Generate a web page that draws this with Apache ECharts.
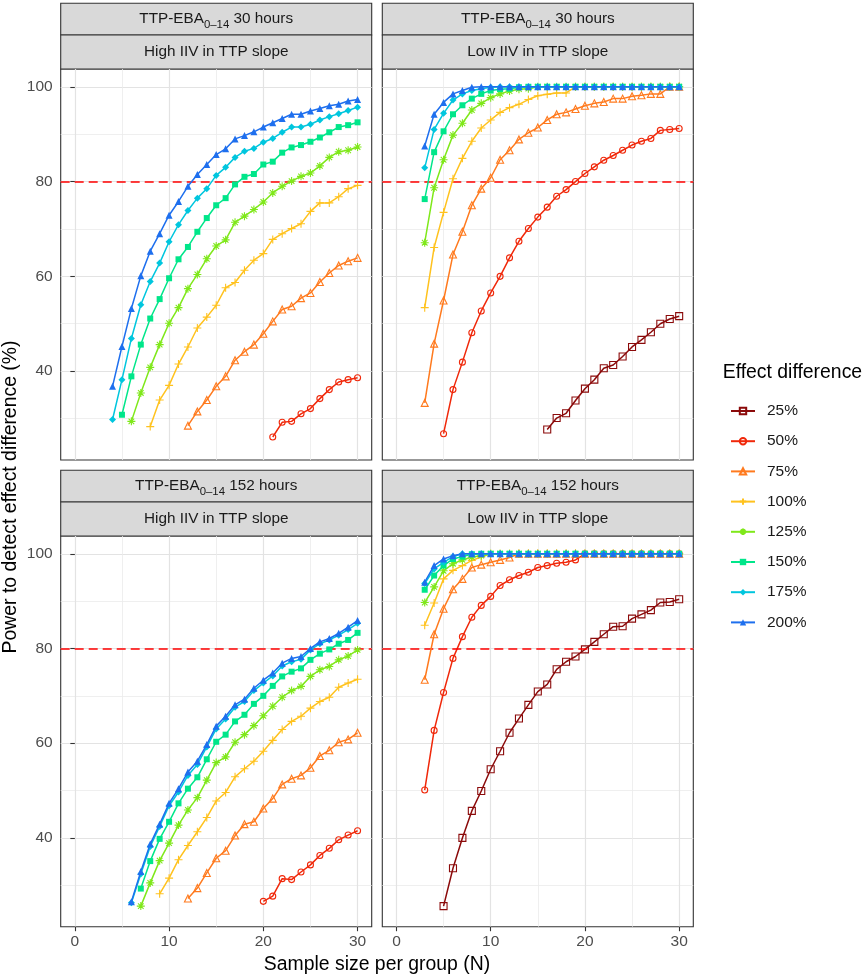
<!DOCTYPE html>
<html>
<head>
<meta charset="utf-8">
<script src="https://cdn.jsdelivr.net/npm/echarts@6.0.0/dist/echarts.min.js"></script>
<style>
  html, body { margin: 0; padding: 0; background: #fff; }
  #main { width: 865px; height: 979px; }
</style>
</head>
<body>
<div id="main"></div>
<script>
// effect levels, in legend order
var effects = ['25%', '50%', '75%', '100%', '125%', '150%', '175%', '200%'];

// axis ticks
var xMajor = [0, 10, 20, 30];
var xMinor = [5, 15, 25];
var yMajor = [40, 60, 80, 100];
var yMinor = [30, 50, 70, 90];

// TTP-EBA 30 hours, high IIV : first N of each curve and the power values
var hi30Start = [null, 21, 12, 8, 6, 5, 4, 4];
var hi30_50 = [26.1, 29.2, 29.4, 31.0, 32.1, 34.2, 36.1, 37.7, 38.2, 38.6];
var hi30_75 = [28.5, 31.5, 33.9, 36.8, 38.9, 42.3, 44.1, 45.6, 47.9, 50.5, 53.0, 53.7, 55.4, 56.5, 58.8, 60.7, 62.3, 63.2, 63.9];
var hi30_100 = [28.3, 33.9, 37.0, 41.5, 45.1, 49.1, 51.4, 53.9, 57.6, 58.7, 61.3, 63.4, 64.8, 67.8, 69.0, 70.1, 71.1, 73.7, 75.5, 75.5, 76.8, 78.5, 79.2];
var hi30_125 = [29.4, 35.4, 40.8, 45.6, 50.1, 53.4, 57.4, 60.4, 63.7, 66.4, 67.7, 71.4, 72.7, 74.1, 75.7, 77.6, 79.0, 80.1, 81.1, 81.8, 83.3, 85.1, 86.3, 86.6, 87.3];
var hi30_150 = [30.8, 38.9, 45.6, 51.1, 55.2, 59.6, 63.6, 66.2, 69.4, 72.3, 75.0, 76.5, 79.4, 81.0, 81.6, 83.6, 84.2, 86.1, 87.2, 87.7, 88.4, 89.3, 90.4, 91.5, 91.9, 92.5];
var hi30_175 = [29.8, 38.2, 46.9, 54.0, 58.9, 62.8, 67.3, 70.9, 73.9, 76.5, 78.5, 81.3, 83.0, 85.1, 86.4, 87.0, 88.3, 89.1, 90.4, 91.5, 91.5, 92.1, 93.0, 93.7, 94.3, 95.0, 95.7];
var hi30_200 = [36.8, 45.2, 53.2, 60.1, 65.3, 69.0, 72.9, 75.8, 79.0, 81.5, 83.6, 85.7, 86.9, 89.0, 89.7, 90.5, 91.5, 92.4, 93.3, 94.2, 94.2, 94.9, 95.4, 96.0, 96.3, 97.0, 97.3];

// TTP-EBA 30 hours, low IIV
var lo30Start = [16, 5, 3, 3, 3, 3, 3, 3];
var lo30_25 = [27.7, 30.1, 31.1, 33.8, 36.3, 38.2, 40.6, 41.3, 43.1, 45.1, 46.6, 48.2, 50.0, 51.0, 51.6];
var lo30_50 = [26.8, 36.1, 41.9, 48.1, 52.7, 56.5, 60.0, 63.9, 67.4, 70.1, 72.5, 74.6, 76.9, 78.3, 80.0, 81.7, 83.1, 84.5, 85.5, 86.6, 87.7, 88.5, 89.1, 90.8, 91.0, 91.2];
var lo30_75 = [33.3, 45.8, 54.9, 64.6, 69.4, 75.0, 78.5, 80.8, 84.6, 86.6, 88.9, 90.3, 91.4, 93.0, 94.2, 94.6, 95.3, 96.0, 96.5, 96.8, 97.5, 97.5, 98.0, 98.2, 98.5, 98.5, 100, 100];
var lo30_100 = [53.4, 66.1, 73.5, 80.6, 84.9, 88.5, 91.3, 93.0, 94.6, 95.6, 96.3, 97.3, 98.1, 98.4, 98.7, 98.7, 100, 100, 100, 100, 100, 100, 100, 100, 100, 100, 100, 100];
var lo30_125 = [67.1, 78.7, 84.6, 89.8, 92.3, 95.1, 96.5, 97.7, 98.5, 99.1, 99.5, 99.6, 100, 100, 100, 100, 100, 100, 100, 100, 100, 100, 100, 100, 100, 100, 100, 100];
var lo30_150 = [76.3, 86.2, 90.6, 94.2, 96.1, 97.5, 98.5, 99.2, 99.5, 99.6, 99.9, 100, 100, 100, 100, 100, 100, 100, 100, 100, 100, 100, 100, 100, 100, 100, 100, 100];
var lo30_175 = [82.9, 91.0, 94.4, 97.2, 98.5, 99.2, 99.6, 99.9, 100, 100, 100, 100, 100, 100, 100, 100, 100, 100, 100, 100, 100, 100, 100, 100, 100, 100, 100, 100];
var lo30_200 = [87.5, 94.2, 96.7, 98.5, 99.2, 99.9, 100, 100, 100, 100, 100, 100, 100, 100, 100, 100, 100, 100, 100, 100, 100, 100, 100, 100, 100, 100, 100, 100];

// TTP-EBA 152 hours, high IIV
var hi152Start = [null, 20, 12, 9, 7, 7, 6, 6];
var hi152_50 = [26.6, 27.7, 31.4, 31.2, 32.8, 34.3, 36.3, 37.8, 39.6, 40.6, 41.5];
var hi152_75 = [27.2, 29.4, 32.6, 35.7, 37.3, 40.5, 42.9, 43.4, 46.2, 48.3, 51.3, 52.5, 53.2, 54.8, 57.3, 58.5, 60.2, 60.8, 62.2];
var hi152_100 = [28.2, 31.5, 35.4, 38.4, 41.3, 44.3, 47.8, 49.6, 52.9, 54.6, 56.2, 58.3, 60.6, 62.9, 64.6, 65.7, 67.4, 68.8, 69.7, 71.8, 72.7, 73.5];
var hi152_125 = [25.6, 30.5, 35.2, 38.9, 42.7, 45.9, 48.5, 52.2, 55.9, 57.1, 60.2, 61.8, 63.7, 65.8, 67.8, 69.7, 71.1, 72.0, 74.1, 75.5, 76.2, 77.6, 78.4, 79.7];
var hi152_150 = [29.3, 35.1, 39.8, 43.4, 47.3, 50.4, 52.8, 56.6, 60.3, 61.8, 64.6, 66.0, 68.3, 70.0, 72.1, 74.1, 75.1, 75.8, 77.6, 78.9, 79.8, 81.0, 81.8, 83.3];
var hi152_175 = [26.3, 32.4, 38.2, 42.4, 46.8, 49.7, 53.2, 55.5, 59.2, 63.0, 65.1, 67.6, 68.8, 71.1, 72.7, 74.2, 76.3, 77.2, 77.7, 79.7, 81.0, 81.8, 82.8, 84.0, 85.3];
var hi152_200 = [26.5, 32.9, 38.7, 42.9, 47.3, 50.4, 53.9, 56.2, 59.7, 63.6, 65.7, 68.1, 69.3, 71.6, 73.3, 74.8, 76.9, 77.9, 78.3, 80.0, 81.4, 82.1, 83.2, 84.5, 85.9];

// TTP-EBA 152 hours, low IIV
var lo152Start = [5, 3, 3, 3, 3, 3, 3, 3];
var lo152_25 = [25.6, 33.6, 40.0, 45.7, 49.9, 54.5, 58.3, 62.2, 65.2, 68.1, 70.9, 72.4, 75.6, 77.2, 78.3, 79.8, 81.4, 83.0, 84.6, 84.7, 86.3, 87.2, 88.1, 89.7, 89.8, 90.4];
var lo152_50 = [50.1, 62.7, 70.7, 77.9, 82.5, 86.6, 89.1, 91.0, 93.3, 94.5, 95.4, 96.1, 97.1, 97.5, 98.0, 98.2, 98.7, 100, 100, 100, 100, 100, 100, 100, 100, 100, 100, 100];
var lo152_75 = [73.4, 83.0, 88.4, 92.5, 94.7, 97.1, 97.7, 98.2, 98.7, 99.2, 100, 100, 100, 100, 100, 100, 100, 100, 100, 100, 100, 100, 100, 100, 100, 100, 100, 100];
var lo152_100 = [84.9, 89.6, 94.7, 96.5, 97.5, 98.6, 99.3, 100, 100, 100, 100, 100, 100, 100, 100, 100, 100, 100, 100, 100, 100, 100, 100, 100, 100, 100, 100, 100];
var lo152_125 = [89.7, 93.0, 96.4, 97.9, 98.7, 99.3, 99.6, 100, 100, 100, 100, 100, 100, 100, 100, 100, 100, 100, 100, 100, 100, 100, 100, 100, 100, 100, 100, 100];
var lo152_150 = [92.4, 95.4, 97.5, 98.9, 99.4, 99.9, 100, 100, 100, 100, 100, 100, 100, 100, 100, 100, 100, 100, 100, 100, 100, 100, 100, 100, 100, 100, 100, 100];
var lo152_175 = [93.7, 96.8, 98.2, 99.4, 100, 100, 100, 100, 100, 100, 100, 100, 100, 100, 100, 100, 100, 100, 100, 100, 100, 100, 100, 100, 100, 100, 100, 100];
var lo152_200 = [94.0, 97.5, 98.9, 99.6, 100, 100, 100, 100, 100, 100, 100, 100, 100, 100, 100, 100, 100, 100, 100, 100, 100, 100, 100, 100, 100, 100, 100, 100];

(function() {
  var FONT = '"Liberation Sans", Arial, Helvetica, sans-serif';
  var colors = ['#8B0A0A', '#F0280A', '#FF7A1E', '#FFC21E', '#7FE81A', '#00E68A', '#00C6DE', '#1E6FEE'];
  var PLUS = 'path://M5,0L5,10M0,5L10,5';
  var STAR = 'path://M5,0L5,10M0,5L10,5M1.5,1.5L8.5,8.5M8.5,1.5L1.5,8.5';
  var symbols = ['rect', 'circle', 'triangle', PLUS, STAR, 'rect', 'diamond', 'triangle'];
  var sizes = [7, 6, 7, 8, 8, 6, 7, 7];
  var hollow = [true, true, true, true, true, false, false, false];

  var panels = [
    { left: 60.7, top: 69, height: 391, hours: '30 hours', iiv: 'High IIV in TTP slope', showX: false, showY: true,
      start: hi30Start, data: [null, hi30_50, hi30_75, hi30_100, hi30_125, hi30_150, hi30_175, hi30_200] },
    { left: 382.3, top: 69, height: 391, hours: '30 hours', iiv: 'Low IIV in TTP slope', showX: false, showY: false,
      start: lo30Start, data: [lo30_25, lo30_50, lo30_75, lo30_100, lo30_125, lo30_150, lo30_175, lo30_200] },
    { left: 60.7, top: 536, height: 390.7, hours: '152 hours', iiv: 'High IIV in TTP slope', showX: true, showY: true,
      start: hi152Start, data: [null, hi152_50, hi152_75, hi152_100, hi152_125, hi152_150, hi152_175, hi152_200] },
    { left: 382.3, top: 536, height: 390.7, hours: '152 hours', iiv: 'Low IIV in TTP slope', showX: true, showY: false,
      start: lo152Start, data: [lo152_25, lo152_50, lo152_75, lo152_100, lo152_125, lo152_150, lo152_175, lo152_200] }
  ];
  var panelW = 311;

  var grids = [], xAxes = [], yAxes = [], series = [], graphics = [];
  var labelStyle = { color: '#4D4D4D', fontSize: 15.5, fontFamily: FONT };
  var tickStyle = { color: '#333333', width: 1.1 };
  var majorGrid = { show: true, lineStyle: { color: '#E3E3E3', width: 1.2 } };
  var minorGrid = { show: true, lineStyle: { color: '#EBEBEB', width: 0.8 } };

  panels.forEach(function(p, i) {
    grids.push({
      left: p.left, top: p.top, width: panelW, height: p.height,
      show: true, backgroundColor: '#fff', borderColor: '#333333', borderWidth: 1.1
    });
    // main axes: labels, ticks and major grid
    xAxes.push({
      type: 'value', gridIndex: i, min: -1.5, max: 31.5,
      axisLine: { show: false },
      axisTick: { show: p.showX, customValues: xMajor, length: 4.5, lineStyle: tickStyle },
      axisLabel: Object.assign({ show: p.showX, customValues: xMajor, margin: 7 }, labelStyle),
      splitLine: majorGrid
    });
    yAxes.push({
      type: 'value', gridIndex: i, min: 21.25, max: 103.75,
      axisLine: { show: false },
      axisTick: { show: p.showY, customValues: yMajor, length: 4.5, lineStyle: tickStyle },
      axisLabel: Object.assign({ show: p.showY, customValues: yMajor, margin: 8 }, labelStyle),
      splitLine: majorGrid
    });
    // helper axes: minor grid only
    xAxes.push({
      type: 'value', gridIndex: i, min: -1.5, max: 31.5,
      axisLine: { show: false }, axisLabel: { show: false },
      axisTick: { show: false, customValues: xMinor },
      splitLine: minorGrid
    });
    yAxes.push({
      type: 'value', gridIndex: i, min: 21.25, max: 103.75,
      axisLine: { show: false }, axisLabel: { show: false },
      axisTick: { show: false, customValues: yMinor },
      splitLine: minorGrid
    });

    var first = true;
    p.data.forEach(function(vals, e) {
      if (!vals) return;
      var n0 = p.start[e];
      var pts = vals.map(function(v, k) { return [n0 + k, v]; });
      var c = colors[e];
      var s = {
        name: effects[e], type: 'line',
        xAxisIndex: 2 * i, yAxisIndex: 2 * i,
        data: pts,
        symbol: symbols[e], symbolSize: sizes[e],
        lineStyle: { color: c, width: 1.5 },
        itemStyle: hollow[e]
          ? { color: 'rgba(255,255,255,0)', borderColor: c, borderWidth: 1.1 }
          : { color: c, borderColor: c, borderWidth: 0 },
        emphasis: { disabled: true },
        animation: false, z: 3 + e
      };
      if (first) {
        s.markLine = {
          silent: true, symbol: ['none', 'none'], animation: false,
          label: { show: false },
          lineStyle: { color: '#FF0000', type: [9, 5], width: 1.5 },
          data: [{ yAxis: 80 }]
        };
        first = false;
      }
      series.push(s);
    });

    // facet strips
    var sTop = p.top - 66;
    graphics.push({ type: 'rect', shape: { x: p.left, y: sTop + 0.3, width: panelW, height: 31.7 },
      style: { fill: '#D9D9D9', stroke: '#333333', lineWidth: 1.1 } });
    graphics.push({ type: 'rect', shape: { x: p.left, y: sTop + 32, width: panelW, height: 34 },
      style: { fill: '#D9D9D9', stroke: '#333333', lineWidth: 1.1 } });
    graphics.push({ type: 'text', x: p.left + panelW / 2, y: sTop + 16.2,
      style: {
        text: '{a|TTP-EBA}{s|0\u201314}{a| ' + p.hours + '}',
        align: 'center', verticalAlign: 'middle',
        rich: {
          a: { fontSize: 15.3, fontFamily: FONT, fill: '#1A1A1A' },
          s: { fontSize: 11.4, fontFamily: FONT, fill: '#1A1A1A', padding: [11, 0, 0, 0] }
        }
      } });
    graphics.push({ type: 'text', x: p.left + panelW / 2, y: sTop + 49,
      style: { text: p.iiv, align: 'center', verticalAlign: 'middle',
        font: '15.3px ' + FONT, fill: '#1A1A1A' } });
  });

  // axis titles and legend title
  graphics.push({ type: 'text', x: 11, y: 497, rotation: Math.PI / 2,
    style: { text: 'Power to detect effect difference (%)', align: 'center', verticalAlign: 'middle',
      font: '19.4px ' + FONT, fill: '#000' } });
  graphics.push({ type: 'text', x: 377, y: 965,
    style: { text: 'Sample size per group (N)', align: 'center', verticalAlign: 'middle',
      font: '19.4px ' + FONT, fill: '#000' } });
  graphics.push({ type: 'text', x: 722.7, y: 373,
    style: { text: 'Effect difference', align: 'left', verticalAlign: 'middle',
      font: '19.4px ' + FONT, fill: '#000' } });

  var myChart = echarts.init(document.getElementById('main'), null, { renderer: 'canvas' });
  myChart.setOption({
    backgroundColor: '#fff',
    animation: false,
    textStyle: { fontFamily: FONT },
    grid: grids,
    xAxis: xAxes,
    yAxis: yAxes,
    legend: {
      data: effects, orient: 'vertical', left: 725, top: 397,
      itemWidth: 24, itemHeight: 8, itemGap: 12.2,
      selectedMode: false,
      textStyle: { fontSize: 15.5, color: '#1A1A1A', fontFamily: FONT, lineHeight: 18, padding: [0, 0, 0, 7] }
    },
    series: series,
    graphic: graphics
  });
})();
</script>
</body>
</html>
